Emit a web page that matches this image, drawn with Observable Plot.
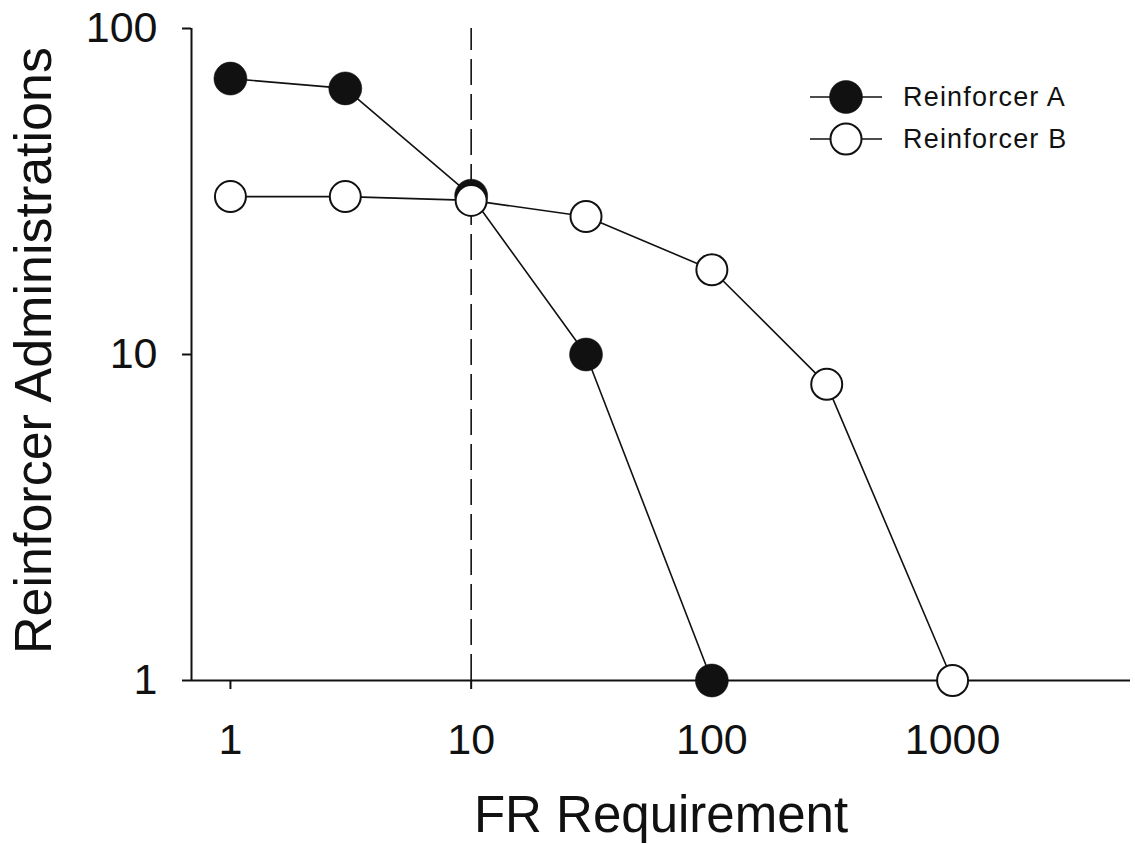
<!DOCTYPE html>
<html>
<head>
<meta charset="utf-8">
<script src="https://cdn.jsdelivr.net/npm/d3@7"></script>
<script src="https://cdn.jsdelivr.net/npm/@observablehq/plot@0.6"></script>
<style>
  html, body { margin: 0; padding: 0; background: #fff; }
  #wrap { position: relative; width: 1135px; height: 844px; font-family: "Liberation Sans", Arial, sans-serif; }
  #legend { position: absolute; left: 790px; top: 70px; }
</style>
</head>
<body>
<div id="wrap"></div>
<script>
// ---- data ----
const seriesNames = ["Reinforcer A", "Reinforcer B"];
const frA = [1, 3, 10, 30, 100];
const valA = [70.2, 65.5, 30.7, 10.0, 1.0];
const frB = [1, 3, 10, 30, 100, 300, 1000];
const valB = [30.5, 30.5, 29.7, 26.5, 18.2, 8.1, 1.0];
const xTicks = [1, 10, 100, 1000];
const yTicks = [1, 10, 100];
const refLine = [10];
const xDomain = [0.689, 5484];
const yDomain = [1, 100];

const A = frA.map((x, i) => ({x, y: valA[i], s: seriesNames[0]}));
const B = frB.map((x, i) => ({x, y: valB[i], s: seriesNames[1]}));

const font = "Liberation Sans, Arial, sans-serif";

const chart = Plot.plot({
  width: 1135,
  height: 844,
  marginLeft: 191,
  marginRight: 5,
  marginTop: 28,
  marginBottom: 164,
  style: {fontFamily: font, background: "#fff", color: "#111", overflow: "visible"},
  x: {type: "log", domain: xDomain},
  y: {type: "log", domain: yDomain},
  marks: [
    Plot.ruleX(refLine, {y1: yDomain[0], y2: yDomain[1], stroke: "#111", strokeWidth: 1.6, strokeDasharray: "26,9"}),
    Plot.ruleY([yDomain[0]], {stroke: "#111", strokeWidth: 2}),
    Plot.ruleX([xDomain[0]], {y1: yDomain[0], y2: yDomain[1], stroke: "#111", strokeWidth: 2}),
    Plot.axisX({ticks: xTicks, tickFormat: d => `${d}`, tickSize: 9, tickPadding: 34, fontSize: 43, label: null, strokeWidth: 2, fill: "#111"}),
    Plot.axisY({ticks: yTicks, tickFormat: d => `${d}`, tickSize: 9, tickPadding: 25, fontSize: 43, label: null, strokeWidth: 2, fill: "#111"}),
    Plot.line(A, {x: "x", y: "y", stroke: "#111", strokeWidth: 1.6}),
    Plot.line(B, {x: "x", y: "y", stroke: "#111", strokeWidth: 1.6}),
    Plot.dot(A, {x: "x", y: "y", r: 16.5, fill: "#111", stroke: "#111", strokeWidth: 0.5}),
    Plot.dot(B, {x: "x", y: "y", r: 15.5, fill: "#fff", stroke: "#111", strokeWidth: 2}),
    Plot.text(["FR Requirement"], {frameAnchor: "bottom", lineAnchor: "bottom", dy: 151, fontSize: 51, fill: "#111"}),
    Plot.text(["Reinforcer Administrations"], {frameAnchor: "left", rotate: -90, lineAnchor: "bottom", textAnchor: "middle", dx: -141, dy: -4, fontSize: 52, fill: "#111"})
  ]
});

const wrap = document.getElementById("wrap");
wrap.appendChild(chart);

// ---- legend ----
const lg = d3.select(wrap).append("svg")
  .attr("id", "legend")
  .attr("width", 320).attr("height", 100);
const fills = ["#111", "#fff"];
seriesNames.forEach((name, i) => {
  const g = lg.append("g").attr("transform", `translate(0, ${27 + i * 42})`);
  g.append("line").attr("x1", 20).attr("x2", 92).attr("y1", 0).attr("y2", 0)
    .attr("stroke", "#111").attr("stroke-width", 1.6);
  g.append("circle").attr("cx", 56).attr("cy", 0).attr("r", i === 0 ? 16.5 : 15.5)
    .attr("fill", fills[i]).attr("stroke", "#111").attr("stroke-width", i === 0 ? 0.5 : 2);
  g.append("text").attr("x", 113).attr("y", 0).attr("dy", "0.35em")
    .attr("font-family", font).attr("font-size", 27).attr("letter-spacing", "1.2px")
    .attr("fill", "#111").text(name);
});
</script>
</body>
</html>
